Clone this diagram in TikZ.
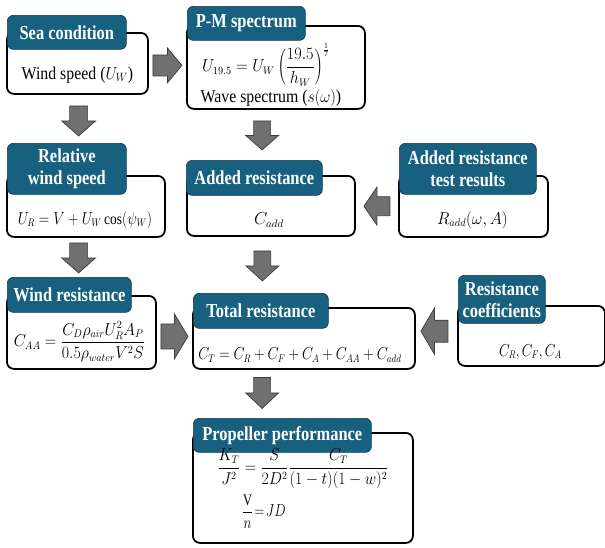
\documentclass[tikz,border=0pt]{standalone}
\usepackage{graphicx}
\usepackage{fontspec}
\setmainfont{Liberation Serif}
\newfontfamily\hdrfont[FakeStretch=0.83]{Liberation Serif}
\newfontfamily\bodyfont[FakeStretch=0.88]{Liberation Serif}
\usetikzlibrary{calc}
\definecolor{tabc}{HTML}{18607F}
\definecolor{tabd}{HTML}{0E3E54}
\definecolor{arrc}{HTML}{707070}
\definecolor{arrd}{HTML}{3C3C3C}
% #1 position, #2 angle, #3 length, #4 head width, #5 shaft width
\newcommand\blockarr[5]{%
  \begin{scope}[shift={#1}, rotate=#2]
    \draw[blockarrow] (-#3/2,-#5/2) -- (0,-#5/2) -- (0,-#4/2) -- (#3/2,0)
      -- (0,#4/2) -- (0,#5/2) -- (-#3/2,#5/2) -- cycle;
  \end{scope}}
\newcommand\sqz[2]{\scalebox{#1}[1]{#2}}
\tikzset{
  box/.style={draw=black, line width=1.8pt, rounded corners=7pt, fill=white,
    anchor=north west, inner sep=0pt},
  tab/.style={draw=tabd, line width=0.7pt, fill=tabc, rounded corners=6pt,
    anchor=north west, inner sep=0pt, text=white, align=center,
    font=\hdrfont\fontsize{19.8}{22}\selectfont\bfseries},
  body/.style={font=\bodyfont\fontsize{18}{20}\selectfont, inner sep=0pt},
  mbody/.style={font=\fontsize{16}{19}\selectfont, inner sep=0pt},
  blockarrow/.style={fill=arrc, draw=arrd, line width=0.7pt, line join=miter},
}
\begin{document}
\begin{tikzpicture}[x=1pt, y=-1pt]
\useasboundingbox (0,0) rectangle (605,547);
% boxes
\node[box, minimum width=141pt, minimum height=61pt] (sea) at (6,32) {};
\node[box, minimum width=178pt, minimum height=83pt] (pm) at (186,25) {};
\node[box, minimum width=158pt, minimum height=61pt] (rel) at (6,175) {};
\node[box, minimum width=168pt, minimum height=60pt] (add) at (186,175) {};
\node[box, minimum width=149pt, minimum height=61pt] (test) at (398,175) {};
\node[box, minimum width=149pt, minimum height=73pt] (wind) at (6,295) {};
\node[box, minimum width=222pt, minimum height=61pt] (total) at (192,307) {};
\node[box, minimum width=147pt, minimum height=60pt] (coef) at (457,305) {};
\node[box, minimum width=220pt, minimum height=110pt] (prop) at (192,432) {};
% tabs
\node[tab, minimum width=119pt, minimum height=34pt] (seaT) at (7,15) {Sea condition};
\node[tab, minimum width=118pt, minimum height=34pt] (pmT) at (187,6) {P-M spectrum};
\node[tab, minimum width=119pt, minimum height=51pt] (relT) at (7,143) {Relative\\wind speed};
\node[tab, minimum width=136pt, minimum height=35pt] (addT) at (186,160) {Added resistance};
\node[tab, minimum width=137pt, minimum height=51pt] (testT) at (399,143) {Added resistance\\test results};
\node[tab, minimum width=124pt, minimum height=35pt] (windT) at (7,277) {Wind resistance};
\node[tab, minimum width=135pt, minimum height=35pt] (totalT) at (193,293) {Total resistance};
\node[tab, minimum width=87pt, minimum height=48pt] (coefT) at (458,275) {Resistance\\coefficients};
\node[tab, minimum width=178pt, minimum height=34pt] (propT) at (193,418) {Propeller performance};
% body texts
\node[body] (seaX) at ($(sea.south)+(0,-20)$) {Wind speed (\sqz{0.9}{$U_W$})};
\node[mbody] (pmX1) at ($(pm.south)+(-10,-45)$) {\sqz{0.94}{$\displaystyle U_{19.5}=U_W\left(\frac{19.5}{h_W}\right)^{\frac{1}{7}}$}};
\node[body] (pmX2) at ($(pm.south)+(-5,-12)$) {Wave spectrum (\sqz{0.9}{$s(\omega)$})};
\node[mbody] (relX) at ($(rel.south)+(-1,-18)$) {\sqz{0.84}{$U_R=V+U_W\cos(\psi_W)$}};
\node[mbody] (addX) at ($(add.south)+(-2,-17)$) {$C_{add}$};
\node[mbody] (testX) at ($(test.south)+(-1,-18)$) {\sqz{0.95}{$R_{add}(\omega,A)$}};
\node[mbody] (windX) at ($(wind.south)+(-2,-28)$) {\sqz{0.92}{$\displaystyle C_{AA}=\frac{C_D\rho_{air}U_R^2A_P}{0.5\rho_{water}V^2S}$}};
\node[mbody] (totalX) at ($(total.south)+(-4,-15)$) {\sqz{0.83}{$C_T=C_R+C_F+C_A+C_{AA}+C_{add}$}};
\node[mbody] (coefX) at ($(coef.south)+(-1,-15)$) {\sqz{0.8}{$C_R,C_F,C_A$}};
\node[mbody] (propX1) at ($(prop.south)+(0,-75)$) {\sqz{0.91}{$\displaystyle \frac{K_T}{J^2}=\frac{S}{2D^2}\frac{C_T}{(1-t)(1-w)^2}$}};
\node[mbody] (propX2) at ($(prop.south)+(-39,-32)$) {\sqz{0.78}{$\displaystyle \frac{\mathrm{V}}{n}\!=\!JD$}};
% block arrows
\blockarr{($(sea.east)!0.5!(pm.west)$)}{0}{29}{35}{21}
\blockarr{($(sea.south)!0.5!(relT.north)+(6.5,2)$)}{-90}{30}{34}{18}
\blockarr{($(pm.south)!0.5!(addT.north)+(-3,0.5)$)}{-90}{29}{33}{17}
\blockarr{($(add.east)!0.5!(test.west)$)}{180}{26}{38}{19}
\blockarr{($(rel.south)!0.5!(windT.north)+(1,0.5)$)}{-90}{30}{34}{18}
\blockarr{($(add.south)!0.5!(totalT.north)+(-3.5,1)$)}{-90}{30}{33}{17}
\blockarr{($(wind.east)!0.5!(total.west)+(0,1)$)}{0}{27}{45}{25}
\blockarr{($(total.east)!0.5!(coef.west)+(-2,-6)$)}{180}{27}{46}{22}
\blockarr{($(total.south)!0.5!(propT.north)+(-31,-1)$)}{-90}{31}{33}{17}
\end{tikzpicture}
\end{document}
